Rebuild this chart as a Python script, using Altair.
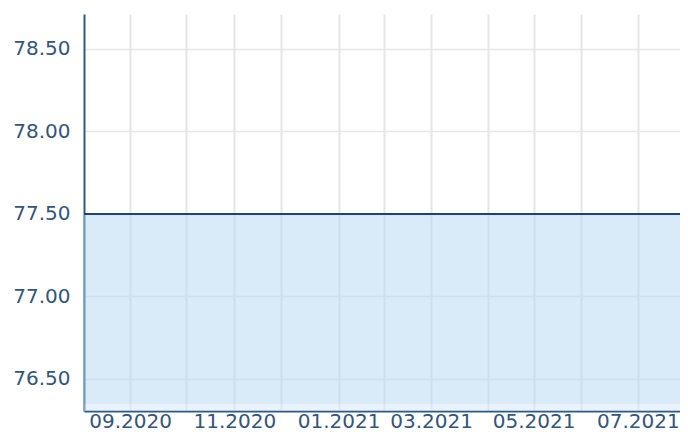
import altair as alt
import pandas as pd

# Data
dates = ["2020-08-04T14:00:00", "2021-07-25T02:00:00"]
values = [77.5, 77.5]
base_low = [76.348, 76.348]      # lower edge of the main shaded area
y_ticks = [76.5, 77.0, 77.5, 78.0, 78.5]
x_ticks = ["2020-09-01", "2020-10-04", "2020-11-02", "2020-11-30",
           "2021-01-03", "2021-01-30", "2021-02-27", "2021-04-02",
           "2021-04-29", "2021-05-27", "2021-06-30"]
y_domain = [76.306, 78.712]
x_domain = ["2020-08-04T14:00:00", "2021-07-25T02:00:00"]

df = pd.DataFrame({"date": pd.to_datetime(dates), "value": values, "low": base_low,
                   "floor": [y_domain[0]] * len(dates)})

label_color = "#34557a"
axis_color = "#2c5a8a"

t = "(time(datum.value) + 345600000)"
label_expr = (f"(month({t}) % 2 == 0 && date({t}) <= 10) ? "
              f"timeFormat({t}, '%m.%Y') : ''")

x_enc = alt.X(
    "date:T",
    scale=alt.Scale(domain=[pd.Timestamp(d).isoformat() for d in x_domain], nice=False),
    axis=alt.Axis(
        values=[pd.Timestamp(d).isoformat() for d in x_ticks],
        labelExpr=label_expr,
        title=None, ticks=False, labelPadding=0, labelFontSize=20,
        labelFont="DejaVu Sans", labelColor=label_color, domainColor=axis_color,
        domainWidth=2, gridColor="#e6e6e6", gridWidth=2, labelOverlap=False,
        labelFlush=False,
    ),
)
y_scale = alt.Scale(domain=y_domain, nice=False, zero=False)
y_axis = alt.Axis(
    values=y_ticks, format=".2f", title=None, ticks=False, labelPadding=14,
    labelFontSize=20, labelFont="DejaVu Sans", labelColor=label_color,
    domainColor=axis_color, domainWidth=2, gridColor="#e6e6e6", gridWidth=1.5,
)

band = alt.Chart(df).mark_area(color="#d5e7f9", opacity=0.5).encode(
    x=x_enc,
    y=alt.Y("low:Q", scale=y_scale, axis=y_axis),
    y2="floor:Q",
)
area = alt.Chart(df).mark_area(color="#b3d5f3", opacity=0.5).encode(
    x=x_enc,
    y=alt.Y("value:Q", scale=y_scale, axis=y_axis),
    y2="low:Q",
)
line = alt.Chart(df).mark_line(color="#1c4478", strokeWidth=2).encode(
    x=x_enc,
    y=alt.Y("value:Q", scale=y_scale, axis=y_axis),
)

chart = (
    alt.layer(band, area, line)
    .properties(
        width=596, height=397,
        autosize=alt.AutoSizeParams(type="none"),
        padding={"left": 76, "top": 6, "right": 0, "bottom": 23},
    )
    .configure_view(stroke="transparent")
)

chart.save("out.html", embed_options={"renderer": "svg", "actions": False})
